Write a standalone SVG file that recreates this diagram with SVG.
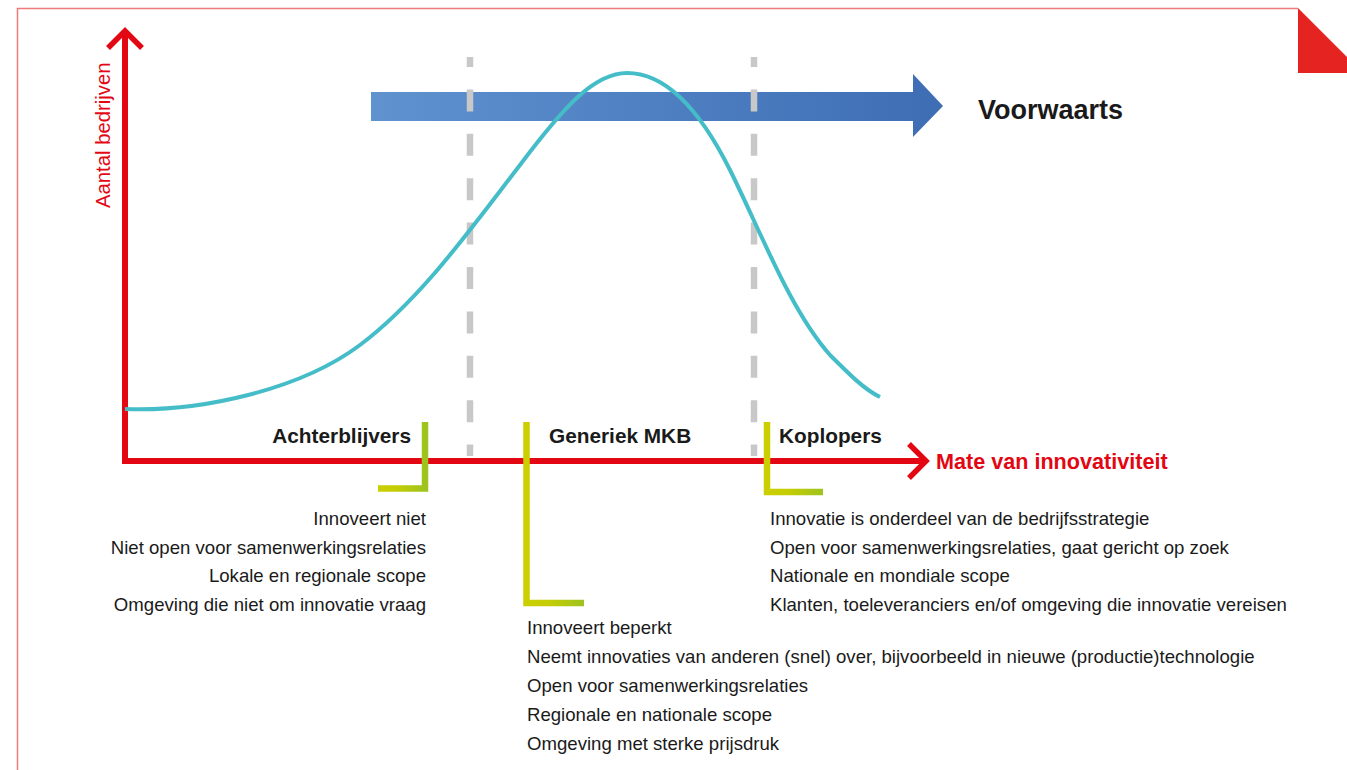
<svg xmlns="http://www.w3.org/2000/svg" width="1347" height="770" viewBox="0 0 1347 770">
<style>
.lbl{font-family:"Liberation Sans",Arial,sans-serif;font-weight:bold;font-size:20.8px;fill:#1a1a1a}
.body{font-family:"Liberation Sans",Arial,sans-serif;font-size:18.6px;fill:#1a1a1a}
.red{fill:#e30613}
.axis{fill:none;stroke:#e30613;stroke-width:6}
.dash{fill:none;stroke:#c8c8c8;stroke-width:6.5;stroke-dasharray:22 22.4;stroke-dashoffset:12}
.brk{fill:none;stroke:url(#gy);stroke-width:6.5}
</style>
<defs>
<linearGradient id="gb" x1="0" y1="0" x2="1" y2="0">
<stop offset="0" stop-color="#5f92cf"/>
<stop offset="1" stop-color="#3e6db4"/>
</linearGradient>
<linearGradient id="gy" x1="0" y1="0" x2="1" y2="0">
<stop offset="0" stop-color="#cbcf00"/>
<stop offset="0.4" stop-color="#c4cd04"/>
<stop offset="1" stop-color="#9ec31e"/>
</linearGradient>
</defs>
<rect width="1347" height="770" fill="#ffffff"/>
<g id="frame">
<path d="M17.5,770 V8.5 H1298" fill="none" stroke="#ef7a7a" stroke-width="1.5"/>
<polygon points="1298,8 1347,57 1347,73 1298,73" fill="#e52421"/>
</g>
<g id="forward-arrow">
<polygon points="371,92 913,92 913,74 943,106 913,137 913,121 371,121" fill="url(#gb)"/>
<text x="978" y="119" class="lbl" style="font-size:27px">Voorwaarts</text>
</g>
<g id="dividers">
<line x1="470" y1="57" x2="470" y2="456" class="dash"/>
<line x1="754" y1="57" x2="754" y2="456" class="dash"/>
</g>
<g id="connectors">
<polyline points="125,32 125,461 924,461" class="axis" stroke-linejoin="miter"/>
<polyline points="108,48 125,31 142,48" fill="none" stroke="#e30613" stroke-width="5.5"/>
<polyline points="909,444 926,461 909,478" fill="none" stroke="#e30613" stroke-width="5.5"/>
</g>
<g id="y-axis-label">
<text transform="translate(110,208) rotate(-90)" class="body red" style="font-size:20.3px">Aantal bedrijven</text>
</g>
<g id="x-axis-label">
<text x="936" y="469" class="lbl red" style="font-size:21.6px">Mate van innovativiteit</text>
</g>
<g id="curve">
<path d="M125,409 C200,412 300,390 360,345 C420,300 470,230 520,165 C565,105 595,73 627,73 C665,73 700,110 730,170 C760,230 790,310 830,355 C850,375 865,390 880,397" fill="none" stroke="#45bdc9" stroke-width="4"/>
</g>
<g id="achterblijvers">
<polyline points="378,488.5 425,488.5 425,422" class="brk"/>
<text x="411" y="443" class="lbl" text-anchor="end">Achterblijvers</text>
<text x="426" y="525" class="body" text-anchor="end">Innoveert niet</text>
<text x="426" y="553.5" class="body" text-anchor="end">Niet open voor samenwerkingsrelaties</text>
<text x="426" y="582" class="body" text-anchor="end">Lokale en regionale scope</text>
<text x="426" y="610.5" class="body" text-anchor="end">Omgeving die niet om innovatie vraag</text>
</g>
<g id="generiek-mkb">
<polyline points="526.5,422 526.5,603 584,603" class="brk"/>
<text x="549" y="443" class="lbl">Generiek MKB</text>
<text class="body"><tspan x="527" y="634">Innoveert beperkt</tspan><tspan x="527" y="663">Neemt innovaties van anderen (snel) over, bijvoorbeeld in nieuwe (productie)technologie</tspan><tspan x="527" y="692">Open voor samenwerkingsrelaties</tspan><tspan x="527" y="721">Regionale en nationale scope</tspan><tspan x="527" y="750">Omgeving met sterke prijsdruk</tspan></text>
</g>
<g id="koplopers">
<polyline points="767,422 767,492 823,492" class="brk"/>
<text x="779" y="443" class="lbl">Koplopers</text>
<text class="body"><tspan x="770" y="525">Innovatie is onderdeel van de bedrijfsstrategie</tspan><tspan x="770" y="553.5">Open voor samenwerkingsrelaties, gaat gericht op zoek</tspan><tspan x="770" y="582">Nationale en mondiale scope</tspan><tspan x="770" y="610.5">Klanten, toeleveranciers en/of omgeving die innovatie vereisen</tspan></text>
</g>
</svg>
